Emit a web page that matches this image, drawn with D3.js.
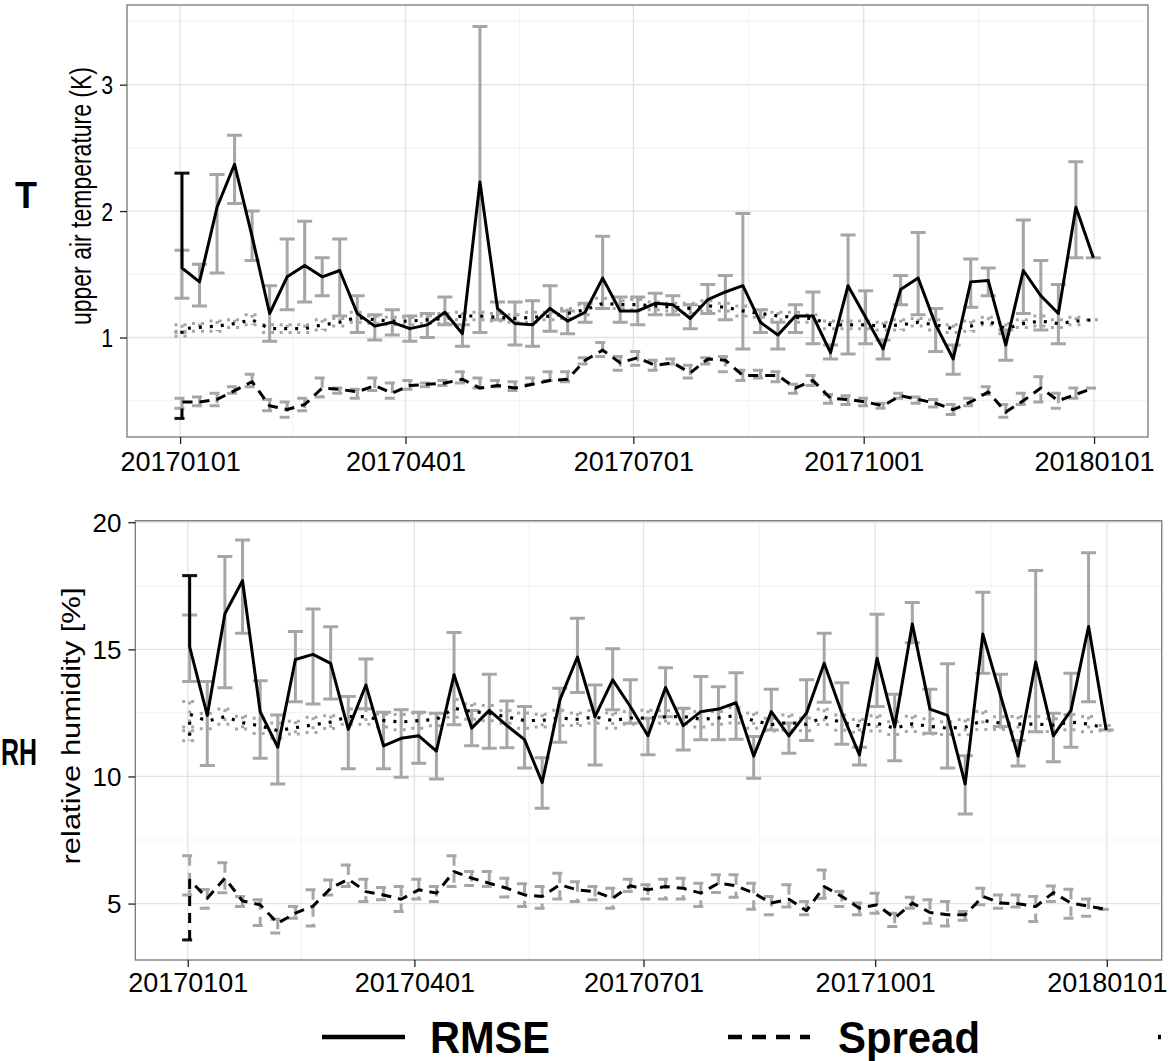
<!DOCTYPE html>
<html><head><meta charset="utf-8">
<script src="https://cdn.jsdelivr.net/npm/d3@7"></script>
<style>
body{margin:0;background:#fff}
svg{display:block;font-family:"Liberation Sans",Arial,Helvetica,sans-serif}
</style>
</head><body>
<svg id="chart" width="1169" height="1061"></svg>
<script>
// ---------------- DATA ----------------
// x categories: weekly analysis dates starting 20170101 (first date appears twice in the data)
const firstDay = "20170101";
const nWeeks = 53;
const xTickLabels = ["20170101", "20170401", "20170701", "20171001", "20180101"];
const seriesNames = ["RMSE", "Spread", ""];

// upper air temperature (K)
const tRmse   = [2.30, 1.55, 1.44, 2.03, 2.37, 1.80, 1.19, 1.48, 1.57, 1.48, 1.53, 1.19, 1.09, 1.12, 1.07, 1.10, 1.20, 1.03, 2.23, 1.23, 1.11, 1.10, 1.23, 1.13, 1.20, 1.47, 1.21, 1.21, 1.27, 1.26, 1.15, 1.30, 1.36, 1.41, 1.12, 1.02, 1.17, 1.17, 0.88, 1.41, 1.16, 0.91, 1.38, 1.47, 1.10, 0.83, 1.44, 1.45, 0.94, 1.53, 1.33, 1.19, 2.03, 1.63];
const tRmseLo = [2.30, 1.31, 1.25, 1.51, 2.06, 1.61, 0.97, 1.22, 1.28, 1.33, 1.17, 1.04, 0.98, 1.02, 0.97, 1.00, 1.10, 0.93, 1.04, 1.14, 0.94, 0.93, 1.05, 1.03, 1.12, 1.23, 1.12, 1.10, 1.18, 1.18, 1.07, 1.19, 1.14, 0.91, 1.04, 0.91, 1.04, 0.95, 0.83, 0.87, 0.95, 0.83, 1.26, 1.18, 0.89, 0.71, 1.24, 1.33, 0.82, 1.19, 1.06, 0.95, 1.63, 1.63];
const tRmseHi = [2.30, 1.69, 1.58, 2.29, 2.60, 2.00, 1.41, 1.78, 1.92, 1.63, 1.78, 1.33, 1.18, 1.22, 1.17, 1.19, 1.32, 1.10, 3.46, 1.28, 1.28, 1.29, 1.41, 1.21, 1.27, 1.80, 1.32, 1.32, 1.35, 1.33, 1.26, 1.42, 1.49, 1.98, 1.22, 1.12, 1.26, 1.36, 0.94, 1.81, 1.37, 0.98, 1.49, 1.83, 1.23, 0.94, 1.62, 1.55, 1.06, 1.93, 1.61, 1.42, 2.39, 1.63];

const tSpread   = [0.36, 0.49, 0.49, 0.51, 0.58, 0.65, 0.46, 0.43, 0.47, 0.60, 0.59, 0.57, 0.62, 0.56, 0.62, 0.63, 0.64, 0.67, 0.60, 0.62, 0.60, 0.63, 0.66, 0.67, 0.82, 0.90, 0.80, 0.84, 0.78, 0.80, 0.72, 0.83, 0.82, 0.70, 0.70, 0.70, 0.60, 0.66, 0.52, 0.51, 0.49, 0.46, 0.54, 0.51, 0.48, 0.43, 0.49, 0.57, 0.41, 0.50, 0.60, 0.50, 0.55, 0.60];
const tSpreadLo = [0.36, 0.44, 0.46, 0.46, 0.56, 0.61, 0.42, 0.37, 0.42, 0.53, 0.56, 0.52, 0.58, 0.52, 0.59, 0.61, 0.62, 0.64, 0.60, 0.61, 0.58, 0.63, 0.66, 0.65, 0.79, 0.85, 0.74, 0.78, 0.74, 0.79, 0.68, 0.79, 0.73, 0.66, 0.68, 0.65, 0.56, 0.62, 0.48, 0.47, 0.46, 0.44, 0.52, 0.48, 0.45, 0.39, 0.46, 0.55, 0.37, 0.47, 0.49, 0.44, 0.52, 0.60];
const tSpreadHi = [0.36, 0.52, 0.53, 0.56, 0.61, 0.71, 0.51, 0.49, 0.52, 0.68, 0.60, 0.59, 0.68, 0.64, 0.66, 0.64, 0.66, 0.73, 0.68, 0.66, 0.65, 0.68, 0.73, 0.73, 0.84, 0.96, 0.85, 0.89, 0.82, 0.83, 0.78, 0.84, 0.85, 0.74, 0.74, 0.73, 0.63, 0.70, 0.55, 0.54, 0.52, 0.48, 0.56, 0.53, 0.51, 0.47, 0.52, 0.61, 0.47, 0.56, 0.69, 0.56, 0.60, 0.60];

const tThird    = [1.03, 1.07, 1.08, 1.09, 1.11, 1.14, 1.07, 1.07, 1.07, 1.10, 1.12, 1.16, 1.14, 1.13, 1.13, 1.14, 1.15, 1.17, 1.17, 1.16, 1.15, 1.16, 1.17, 1.19, 1.22, 1.27, 1.26, 1.26, 1.25, 1.24, 1.23, 1.25, 1.24, 1.21, 1.19, 1.17, 1.16, 1.15, 1.10, 1.10, 1.10, 1.09, 1.10, 1.12, 1.10, 1.07, 1.09, 1.13, 1.07, 1.11, 1.13, 1.11, 1.13, 1.14];
const tThirdErr = [0.02, 0.03, 0.03, 0.04, 0.03, 0.04, 0.03, 0.03, 0.03,
                   0.04, 0.03, 0.04, 0.03, 0.03, 0.03, 0.03, 0.04, 0.03,
                   0.03, 0.03, 0.03, 0.04, 0.03, 0.04, 0.04, 0.04, 0.03,
                   0.04, 0.03, 0.03, 0.04, 0.04, 0.03, 0.04, 0.03, 0.03,
                   0.04, 0.03, 0.03, 0.03, 0.03, 0.03, 0.04, 0.03, 0.04,
                   0.03, 0.04, 0.03, 0.04, 0.03, 0.04, 0.03, 0.03, 0.00];

// relative humidity [%]
const rRmse   = [17.9, 15.1, 12.4, 16.4, 17.7, 12.55, 11.15, 14.6, 14.8, 14.45, 11.85, 13.6, 11.2, 11.5, 11.6, 11.0, 14.0, 11.9, 12.6, 12.0, 11.45, 9.76, 13.0, 14.7, 12.35, 13.8, 12.75, 11.6, 13.5, 12.0, 12.55, 12.65, 12.9, 10.8, 12.55, 11.6, 12.5, 14.45, 12.5, 10.85, 14.65, 11.95, 16.0, 12.65, 12.4, 9.7, 15.6, 13.2, 10.8, 14.5, 11.6, 12.6, 15.9, 11.83];
const rRmseLo = [17.9, 13.73, 10.43, 13.49, 15.63, 10.72, 9.70, 12.94, 12.85, 13.05, 10.30, 12.66, 10.30, 9.97, 10.52, 9.90, 12.03, 11.21, 11.11, 11.13, 10.33, 8.75, 11.35, 13.30, 10.45, 12.62, 12.09, 10.85, 12.35, 11.04, 11.44, 11.44, 11.46, 9.93, 11.83, 10.91, 11.41, 12.92, 11.27, 10.45, 12.75, 10.62, 15.26, 11.70, 10.33, 8.52, 14.06, 11.96, 10.41, 11.76, 10.58, 11.15, 12.94, 11.83];
const rRmseHi = [17.9, 16.35, 13.73, 18.65, 19.30, 13.76, 12.42, 15.70, 16.59, 15.89, 13.14, 14.62, 12.53, 12.62, 12.53, 12.49, 15.66, 12.59, 14.02, 12.97, 12.75, 10.74, 13.47, 16.22, 13.60, 15.02, 13.80, 12.29, 14.28, 12.68, 13.93, 13.53, 14.08, 11.57, 13.43, 12.10, 13.80, 15.63, 13.69, 11.15, 16.38, 13.23, 16.84, 13.43, 14.43, 10.81, 17.25, 14.02, 11.41, 18.10, 12.49, 14.06, 18.80, 11.83];

const rSpread   = [3.57, 5.93, 5.21, 6.0, 5.1, 4.95, 4.23, 4.62, 4.9, 5.6, 5.96, 5.47, 5.34, 5.17, 5.54, 5.41, 6.26, 6.0, 5.8, 5.6, 5.34, 5.28, 5.74, 5.54, 5.47, 5.21, 5.7, 5.54, 5.67, 5.6, 5.41, 5.8, 5.7, 5.41, 5.02, 5.17, 4.72, 5.67, 5.28, 4.82, 4.95, 4.43, 5.02, 4.65, 4.56, 4.56, 5.28, 5.02, 4.99, 4.88, 5.43, 5.02, 4.9, 4.77];
const rSpreadLo = [3.57, 5.34, 4.82, 5.43, 4.88, 4.14, 3.84, 4.42, 4.12, 5.34, 5.67, 5.08, 5.15, 4.69, 5.18, 5.08, 5.67, 5.71, 5.67, 5.26, 4.88, 4.82, 5.18, 5.08, 5.15, 4.82, 5.47, 5.18, 5.18, 5.18, 4.88, 5.44, 5.25, 4.78, 4.56, 4.86, 4.56, 5.21, 4.88, 4.56, 4.62, 4.10, 4.82, 4.23, 4.12, 4.34, 4.95, 4.82, 4.86, 4.29, 5.08, 4.42, 4.50, 4.77];
const rSpreadHi = [3.57, 6.88, 5.55, 6.61, 5.28, 5.15, 4.38, 4.88, 5.54, 5.93, 6.52, 5.96, 5.63, 5.67, 5.96, 5.67, 6.88, 6.26, 6.26, 6.0, 5.78, 5.67, 6.19, 5.86, 5.67, 5.6, 5.96, 5.74, 5.96, 6.0, 5.8, 6.13, 6.13, 5.8, 5.28, 5.74, 5.08, 6.32, 5.47, 5.02, 5.41, 4.62, 5.25, 5.15, 5.08, 4.69, 5.6, 5.34, 5.34, 5.28, 5.69, 5.56, 5.18, 4.77];

const rThird    = [11.6, 12.45, 12.18, 12.35, 12.12, 11.99, 11.8, 11.92, 12.03, 12.14, 12.35, 12.35, 12.2, 12.14, 12.2, 12.24, 12.68, 12.55, 12.49, 12.34, 12.2, 12.2, 12.3, 12.25, 12.34, 12.2, 12.3, 12.3, 12.34, 12.36, 12.25, 12.3, 12.4, 12.2, 12.04, 12.12, 12.05, 12.34, 12.12, 11.99, 12.09, 11.9, 12.07, 11.97, 11.9, 11.94, 12.2, 12.1, 12.06, 12.06, 12.02, 12.14, 12.06, 11.9];
const rThirdErr = [0.20, 0.50, 0.30, 0.30, 0.25, 0.30, 0.30, 0.25, 0.30,
                   0.25, 0.30, 0.30, 0.25, 0.30, 0.30, 0.25, 0.35, 0.30,
                   0.30, 0.25, 0.30, 0.25, 0.30, 0.25, 0.25, 0.30, 0.25,
                   0.30, 0.25, 0.30, 0.30, 0.25, 0.30, 0.30, 0.25, 0.30,
                   0.25, 0.30, 0.30, 0.25, 0.30, 0.25, 0.30, 0.30, 0.25,
                   0.30, 0.35, 0.25, 0.30, 0.30, 0.25, 0.30, 0.30, 0.10];

// ---------------- LAYOUT / STYLE ----------------
const svg = d3.select("#chart");
const parseDay = d3.utcParse("%Y%m%d");
const fmtDay = d3.utcFormat("%Y%m%d");
const day0 = parseDay(firstDay);
const weekDates = d3.range(nWeeks).map(i => d3.utcHour.offset(d3.utcDay.offset(day0, 7 * i), 18));
const pointDates = [weekDates[0]].concat(weekDates);
const tickDates = xTickLabels.map(parseDay);

const GRAY = "#a6a6a6";
const styles = [
  {dash: null,    ebDash: null,    width: 3},
  {dash: "10,7",  ebDash: "10,7",  width: 3},
  {dash: "3,8",   ebDash: "3,6",   width: 3.2}
];

const panels = [
  {
    left: 127, right: 1148, top: 5, bottom: 437,
    padStart: 21.17, padEnd: 21.56,
    yDomain: [0.213, 3.63], yTicks: [1, 2, 3], yMinor: [0.5, 1.5, 2.5, 3.5],
    yLabelScale: 0.82, yLabelRight: 113,
    xLabelBaseline: 471,
    title: "upper air temperature (K)", titleX: 91, titleY: 196, titleSize: 29, titleLen: 258,
    tag: "T", tagX: 26, tagY: 208, tagAnchor: "middle", tagLen: null,
    series: [
      {v: tRmse, lo: tRmseLo, hi: tRmseHi},
      {v: tSpread, lo: tSpreadLo, hi: tSpreadHi},
      {v: tThird, err: tThirdErr}
    ]
  },
  {
    left: 135.3, right: 1161.7, top: 520.7, bottom: 960,
    padStart: 20.8, padEnd: 21.8,
    yDomain: [2.78, 20.06], yTicks: [5, 10, 15, 20], yMinor: [7.5, 12.5, 17.5],
    yLabelScale: 1.0, yLabelRight: 121.5,
    xLabelBaseline: 992,
    title: "relative humidity [%]", titleX: 80, titleY: 726, titleSize: 26, titleLen: 277,
    tag: "RH", tagX: 1, tagY: 765, tagAnchor: "start", tagLen: 36,
    series: [
      {v: rRmse, lo: rRmseLo, hi: rRmseHi},
      {v: rSpread, lo: rSpreadLo, hi: rSpreadHi},
      {v: rThird, err: rThirdErr}
    ]
  }
];

panels.forEach(p => {
  const x = d3.scaleUtc()
    .domain([d3.utcHour.offset(tickDates[0], -p.padStart * 24), d3.utcHour.offset(tickDates[tickDates.length - 1], p.padEnd * 24)])
    .range([p.left, p.right]);
  const y = d3.scaleLinear().domain(p.yDomain).range([p.bottom, p.top]);
  const g = svg.append("g");

  // minor grid
  const xMinor = d3.pairs(tickDates).map(([a, b]) => new Date((+a + +b) / 2));
  g.selectAll(".gxm").data(xMinor).join("line")
    .attr("x1", d => x(d)).attr("x2", d => x(d)).attr("y1", p.top).attr("y2", p.bottom)
    .attr("stroke", "#f3f3f3").attr("stroke-width", 1.2);
  g.selectAll(".gym").data(p.yMinor.filter(v => v > p.yDomain[0] && v < p.yDomain[1])).join("line")
    .attr("x1", p.left).attr("x2", p.right).attr("y1", d => y(d)).attr("y2", d => y(d))
    .attr("stroke", "#f3f3f3").attr("stroke-width", 1.2);
  // major grid
  g.selectAll(".gx").data(tickDates).join("line")
    .attr("x1", d => x(d)).attr("x2", d => x(d)).attr("y1", p.top).attr("y2", p.bottom)
    .attr("stroke", "#e3e3e3").attr("stroke-width", 1.3);
  g.selectAll(".gy").data(p.yTicks).join("line")
    .attr("x1", p.left).attr("x2", p.right).attr("y1", d => y(d)).attr("y2", d => y(d))
    .attr("stroke", "#e3e3e3").attr("stroke-width", 1.3);

  // build data rows
  const rows = p.series.map(s => s.v.map((v, i) => ({
    date: pointDates[i], i, v,
    lo: s.err ? v - s.err[i] : s.lo[i],
    hi: s.err ? v + s.err[i] : s.hi[i]
  })));

  // error bars
  const cap = 7.5;
  rows.forEach((r, si) => {
    const st = styles[si];
    g.append("g").selectAll("path").data(r).join("path")
      .attr("d", d => {
        const cx = x(d.date), yl = y(d.lo), yh = y(d.hi);
        if (d.lo === d.hi) return `M${cx - cap},${yh}H${cx + cap}`;
        return `M${cx - cap},${yh}H${cx + cap}M${cx},${yh}V${yl}M${cx - cap},${yl}H${cx + cap}`;
      })
      .attr("fill", "none")
      .attr("stroke", d => (d.i === 0 && si < 2) ? "#111" : GRAY)
      .attr("stroke-width", 3)
      .attr("stroke-dasharray", st.ebDash);
  });

  // lines
  const line = d3.line().x(d => x(d.date)).y(d => y(d.v));
  rows.forEach((r, si) => {
    const st = styles[si];
    g.append("path").datum(r)
      .attr("d", line)
      .attr("fill", "none")
      .attr("stroke", "#000")
      .attr("stroke-width", st.width)
      .attr("stroke-linejoin", "round")
      .attr("stroke-dasharray", st.dash);
  });

  // panel border
  g.append("rect").attr("x", p.left).attr("y", p.top)
    .attr("width", p.right - p.left).attr("height", p.bottom - p.top)
    .attr("fill", "none").attr("stroke", "#808080").attr("stroke-width", 1.4);

  // x axis
  const xa = g.append("g").attr("transform", `translate(0,${p.bottom})`)
    .call(d3.axisBottom(x).tickValues(tickDates).tickFormat(fmtDay).tickSize(7).tickPadding(4));
  xa.select(".domain").remove();
  xa.selectAll(".tick line").attr("stroke", "#222").attr("stroke-width", 1.3);
  xa.selectAll(".tick text").attr("font-size", 27).attr("fill", "#000")
    .attr("y", p.xLabelBaseline - p.bottom).attr("dy", null);

  // y axis
  const ya = g.append("g").attr("transform", `translate(${p.left},0)`)
    .call(d3.axisLeft(y).tickValues(p.yTicks).tickFormat(d3.format("d")).tickSize(7));
  ya.select(".domain").remove();
  ya.selectAll(".tick line").attr("stroke", "#222").attr("stroke-width", 1.3);
  ya.selectAll(".tick text").attr("font-size", 26).attr("fill", "#000")
    .attr("x", null).attr("dy", null)
    .attr("text-anchor", "end")
    .attr("transform", `translate(${p.yLabelRight - p.left},9.3) scale(${p.yLabelScale},1)`);

  // y title
  svg.append("text")
    .attr("transform", `translate(${p.titleX},${p.titleY}) rotate(-90)`)
    .attr("text-anchor", "middle")
    .attr("font-size", p.titleSize)
    .attr("textLength", p.titleLen).attr("lengthAdjust", "spacingAndGlyphs")
    .attr("fill", "#000")
    .text(p.title);

  // panel tag
  const tag = svg.append("text")
    .attr("x", p.tagX).attr("y", p.tagY)
    .attr("text-anchor", p.tagAnchor)
    .attr("font-size", 36).attr("font-weight", "bold")
    .attr("fill", "#000")
    .text(p.tag);
  if (p.tagLen) tag.attr("textLength", p.tagLen).attr("lengthAdjust", "spacingAndGlyphs");
});

// ---------------- LEGEND ----------------
const legendItems = [
  {x1: 322, x2: 405, tx: 430, tlen: 120, label: seriesNames[0], lw: 4.5, ldash: null},
  {x1: 728, x2: 810, tx: 838, tlen: 142, label: seriesNames[1], lw: 4.5, ldash: "14,10"},
  {x1: 1158, x2: 1240, tx: 1266, tlen: 0, label: seriesNames[2], lw: 4.5, ldash: "3,9"}
];
const lg = svg.append("g");
legendItems.forEach(it => {
  lg.append("line").attr("x1", it.x1).attr("x2", it.x2).attr("y1", 1037).attr("y2", 1037)
    .attr("stroke", "#000").attr("stroke-width", it.lw).attr("stroke-dasharray", it.ldash);
  if (it.label) {
    lg.append("text").attr("x", it.tx).attr("y", 1053)
      .attr("font-size", 44).attr("font-weight", "bold")
      .attr("textLength", it.tlen).attr("lengthAdjust", "spacingAndGlyphs")
      .attr("fill", "#000").text(it.label);
  }
});
</script>
</body></html>
